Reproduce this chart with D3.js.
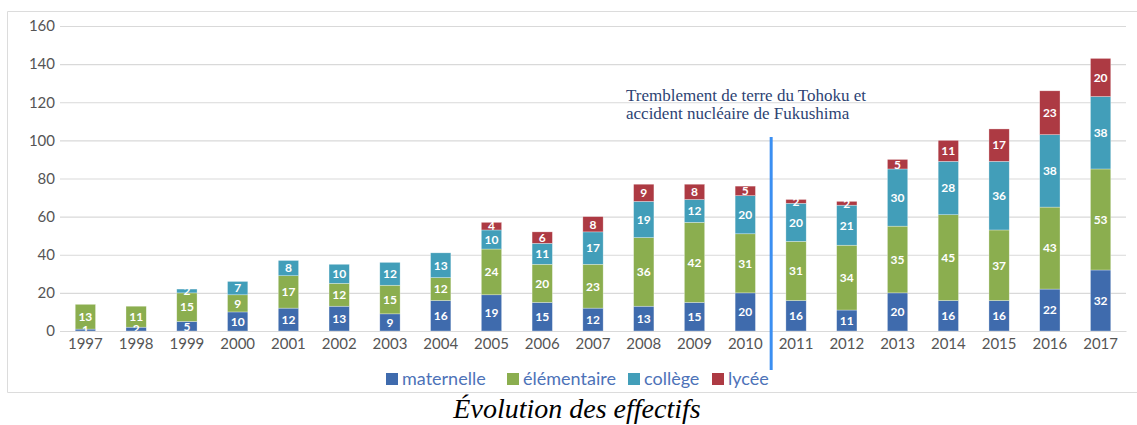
<!DOCTYPE html>
<html><head><meta charset="utf-8">
<script src="https://cdn.jsdelivr.net/npm/d3@7"></script>
<style>body{margin:0;background:#fff}svg{display:block}</style>
</head><body><svg id="c" width="1137" height="425"></svg>
<script>
const years = ["1997","1998","1999","2000","2001","2002","2003","2004","2005","2006","2007","2008","2009","2010","2011","2012","2013","2014","2015","2016","2017"];
const maternelle  = [1,2,5,10,12,13,9,16,19,15,12,13,15,20,16,11,20,16,16,22,32];
const elementaire = [13,11,15,9,17,12,15,12,24,20,23,36,42,31,31,34,35,45,37,43,53];
const college     = [0,0,2,7,8,10,12,13,10,11,17,19,12,20,20,21,30,28,36,38,38];
const lycee       = [0,0,0,0,0,0,0,0,4,6,8,9,8,5,2,2,5,11,17,23,20];
const seriesNames = ["maternelle","élémentaire","collège","lycée"];
const seriesColors = ["#3f6bad","#8bae4f","#429eb9","#ad3a43"];
const yTicks = [0,20,40,60,80,100,120,140,160];
const annotation = ["Tremblement de terre du Tohoku et","accident nucléaire de Fukushima"];
const eventAfter = "2010";
const title = "Évolution des effectifs";

const svg = d3.select("#c");
const L = 60, R = 1126, T = 26, B = 331;

// frame
svg.append("path").attr("d","M1137,11.5H7.5V392.5H1137").attr("fill","none").attr("stroke","#dcdcdc").attr("stroke-width",1);

const x = d3.scaleBand().domain(years).range([L,R]).paddingInner(0.6).paddingOuter(0.3);
const y = d3.scaleLinear().domain([0,160]).range([B,T]);

// grid
const yAxis = d3.axisLeft(y).tickValues(yTicks).tickSize(-(R-L)).tickPadding(7);
const gy = svg.append("g").attr("transform",`translate(${L},0)`).call(yAxis);
gy.select(".domain").remove();
gy.selectAll(".tick line").attr("stroke","#d9d9d9").attr("stroke-width",1.2);
gy.selectAll(".tick text").attr("fill","#555").style("font","15px Lato").attr("x",-5);

const rows = years.map((yr,i)=>({year:yr, maternelle:maternelle[i], "élémentaire":elementaire[i], "collège":college[i], "lycée":lycee[i]}));
const stack = d3.stack().keys(seriesNames)(rows);

const g = svg.append("g");
stack.forEach((s,si)=>{
  s.forEach(d=>{
    const v = d[1]-d[0];
    if (v<=0) return;
    g.append("rect").attr("x",x(d.data.year)).attr("width",x.bandwidth())
      .attr("y",y(d[1])).attr("height",y(d[0])-y(d[1]))
      .attr("fill",seriesColors[si]).attr("stroke","rgba(255,255,255,0.5)").attr("stroke-width",0.6);
  });
});
stack.forEach((s,si)=>{
  s.forEach(d=>{
    const v = d[1]-d[0];
    if (v<=0) return;
    g.append("text").attr("x",x(d.data.year)+x.bandwidth()/2).attr("y",(y(d[0])+y(d[1]))/2)
      .attr("dy","0.36em").attr("text-anchor","middle").attr("fill","#fff")
      .style("font","bold 12px Lato").text(v);
  });
});

// x axis
const gx = svg.append("g").attr("transform",`translate(0,${B})`).call(d3.axisBottom(x).tickSize(0).tickPadding(7));
gx.select(".domain").attr("stroke","#d9d9d9").attr("stroke-width",1.2);
gx.selectAll(".tick text").attr("fill","#555").style("font","15px Lato");

// event line
const ex = x(eventAfter) + x.bandwidth() + (x.step()-x.bandwidth())/2 + 0.5;
svg.append("line").attr("x1",ex).attr("x2",ex).attr("y1",137).attr("y2",370).attr("stroke","#3b8ff2").attr("stroke-width",3);

// annotation
const at = svg.append("text").attr("x",626).attr("y",101).attr("fill","#2d4373").style("font","17px 'Liberation Serif'");
annotation.forEach((t,i)=>at.append("tspan").attr("x",626).attr("dy",i?17.5:0).text(t));

// legend
const leg = svg.append("g").attr("transform","translate(386,379)");
const legX = [0,121,242,326];
seriesNames.forEach((n,i)=>{
  leg.append("rect").attr("x",legX[i]).attr("y",-6).attr("width",12).attr("height",12).attr("fill",seriesColors[i]);
  leg.append("text").attr("x",legX[i]+16).attr("y",0).attr("dy","0.35em").attr("fill","#4d72b8").style("font","18px Lato").text(n);
});

// title
svg.append("text").attr("x",577).attr("y",418).attr("text-anchor","middle").attr("fill","#000")
  .style("font","italic 28px 'Liberation Serif'").text(title);
</script></body></html>
